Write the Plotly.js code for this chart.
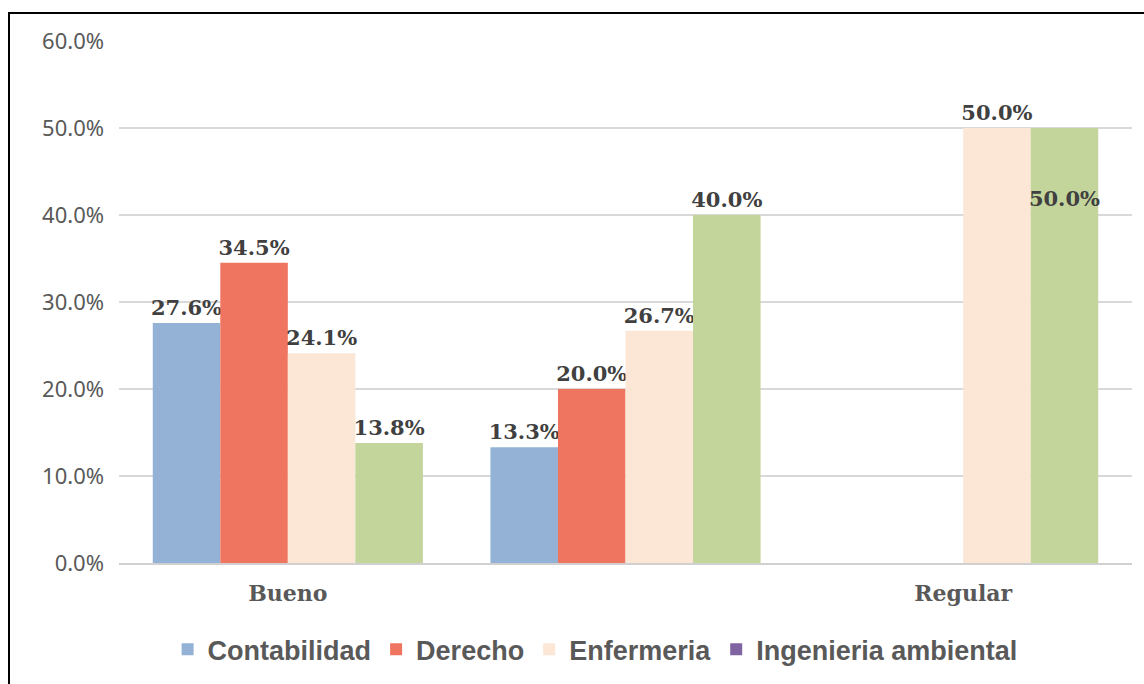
<!DOCTYPE html>
<html>
<head>
<meta charset="utf-8">
<script src="https://cdn.plot.ly/plotly-3.0.1.min.js"></script>
<style>
  html, body { margin: 0; padding: 0; background: #fff; }
  #wrap { position: relative; width: 1144px; height: 684px; }
  #chart { width: 1144px; height: 684px; }
  #frame { position: absolute; left: 8px; top: 12px; width: 1136px; height: 672px;
           border-top: 2.5px solid #000; border-left: 2.5px solid #000; box-sizing: border-box; pointer-events: none; }
</style>
</head>
<body>
<div id="wrap">
  <div id="chart"></div>
  <div id="frame"></div>
</div>
<script>
// Categories (the middle group has no label in the original)
const categories = ["Bueno", "", "Regular"];
const yTicks = [0, 10, 20, 30, 40, 50, 60];

// Series values (%)
const contabilidad = [27.6, 13.3, null];
const derecho = [34.5, 20.0, null];
const enfermeria = [24.1, 26.7, 50.0];
const ingenieriaAmbiental = [13.8, 40.0, 50.0];

const seriesNames = ["Contabilidad", "Derecho", "Enfermeria", "Ingenieria ambiental"];

const xPos = categories.map((c, i) => i);

const labelFont = { family: "DejaVu Serif", size: 21, color: "#404040", weight: "bold" };

function barTrace(name, values, color, positions, showlegend, templates) {
  return {
    type: "bar",
    name: name,
    x: xPos,
    y: values,
    marker: { color: color, line: { width: 0 } },
    texttemplate: templates || "%{y:.1f}%",
    textposition: positions,
    textangle: 0,
    insidetextanchor: "end",
    constraintext: "none",
    textfont: labelFont,
    insidetextfont: labelFont,
    outsidetextfont: labelFont,
    cliponaxis: false,
    showlegend: showlegend,
    hoverinfo: "skip"
  };
}

const traces = [
  barTrace(seriesNames[0], contabilidad, "#93B2D6", "outside", true),
  barTrace(seriesNames[1], derecho, "#EF7560", "outside", true),
  barTrace(seriesNames[2], enfermeria, "#FCE7D6", "outside", true),
  barTrace(seriesNames[3], ingenieriaAmbiental, "#C3D59B", ["outside", "outside", "inside"], false,
           ["%{y:.1f}%", "%{y:.1f}%", " <br> <br>%{y:.1f}%"]),
  // legend entry as shown in the original (purple swatch)
  {
    type: "bar", name: seriesNames[3], x: xPos, y: [null, null, null],
    xaxis: "x2", marker: { color: "#8064A2" }, showlegend: true, hoverinfo: "skip"
  }
];

const layout = {
  width: 1144,
  height: 684,
  margin: { l: 119, r: 12, t: 41, b: 121, autoexpand: false },
  paper_bgcolor: "#fff",
  plot_bgcolor: "#fff",
  barmode: "group",
  bargap: 0.2,
  bargroupgap: 0,
  showlegend: true,
  legend: {
    orientation: "h",
    xref: "paper",
    x: 0.47, xanchor: "center",
    yref: "container",
    y: 0.05, yanchor: "middle",
    font: { family: "Liberation Sans", size: 27, color: "#595959", weight: "bold" },
    traceorder: "normal",
    itemclick: false
  },
  xaxis: {
    type: "linear",
    range: [-0.5, 2.5],
    tickvals: xPos,
    ticktext: categories,
    showgrid: false,
    zeroline: false,
    showline: true,
    linecolor: "#d0d0d0",
    linewidth: 1.5,
    ticks: "",
    ticklabelstandoff: 10,
    tickfont: { family: "DejaVu Serif", size: 22, color: "#595959", weight: "bold" },
    fixedrange: true
  },
  xaxis2: {
    overlaying: "x",
    range: [-0.5, 2.5],
    visible: false,
    fixedrange: true
  },
  yaxis: {
    range: [0, 60],
    tickvals: yTicks,
    ticktext: yTicks.map(v => v.toFixed(1) + "%"),
    showgrid: true,
    gridcolor: "#d9d9d9",
    gridwidth: 1.5,
    zeroline: false,
    showline: false,
    ticks: "",
    ticklabelstandoff: 14,
    tickfont: { family: "Noto Sans", size: 22, color: "#595959" },
    fixedrange: true
  }
};

Plotly.newPlot("chart", traces, layout, { displayModeBar: false, staticPlot: true });
</script>
</body>
</html>
